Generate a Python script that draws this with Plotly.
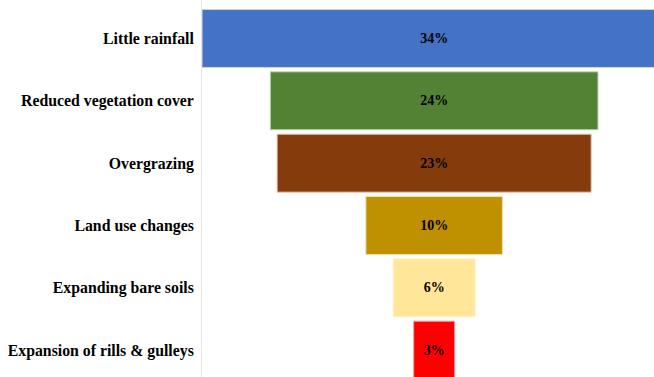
import plotly.graph_objects as go

categories = ["Little rainfall", "Reduced vegetation cover", "Overgrazing",
              "Land use changes", "Expanding bare soils", "Expansion of rills & gulleys"]
values = [34, 24, 23, 10, 6, 3]
colors = ["#4472C4", "#548235", "#843C0C", "#BF9000", "#FFE699", "#FF0000"]
line_colors = ["#C9D5EE", "#C5D6BA", "#E3C7B5", "#F2E1AA", "#FFF0C8", "#FF9A9A"]

fig = go.Figure(go.Funnel(
    y=categories,
    x=values,
    texttemplate="%{x}%",
    textposition="inside",
    marker=dict(color=colors, line=dict(color=line_colors, width=1)),
    connector=dict(visible=False),
    constraintext="none",
    textfont=dict(family="Liberation Serif", size=14, color="#000000", weight="bold"),
))

fig.update_layout(
    width=654, height=377,
    margin=dict(l=202, r=0, t=0, b=0),
    paper_bgcolor="white", plot_bgcolor="white",
    showlegend=False,
    funnelgap=0.07,
    font=dict(family="Liberation Serif", color="#000000"),
)
fig.update_xaxes(range=[-17, 16.1], visible=False, showgrid=False, zeroline=False)
fig.update_yaxes(
    range=[5.43, -0.617], autorange=False,
    showline=True, linecolor="#E6E6E6", linewidth=1,
    showgrid=False, zeroline=False,
    tickfont=dict(family="Liberation Serif", size=15.8, color="#000000", weight="bold"),
    ticks="", ticklabelstandoff=4,
)

fig.write_html("out.html")
